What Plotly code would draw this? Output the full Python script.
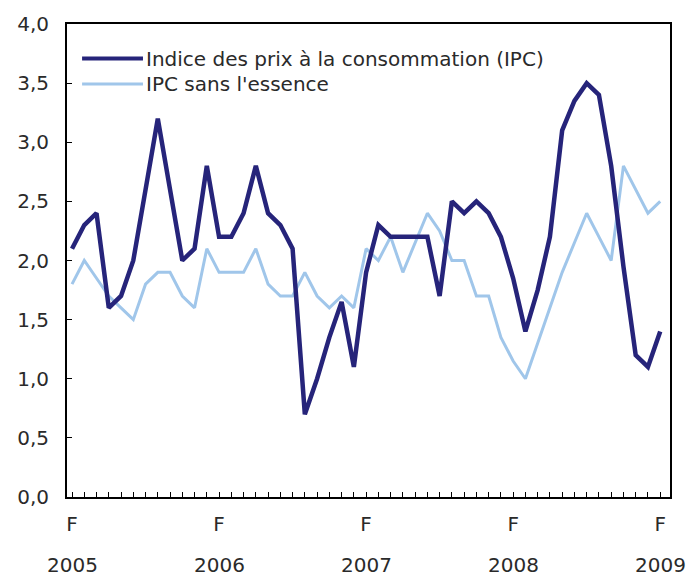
import plotly.graph_objects as go

# Monthly, Feb 2005 .. Feb 2009 (49 points)
months = list(range(49))
ipc = [2.1, 2.3, 2.4, 1.6, 1.7, 2.0, 2.6, 3.2, 2.6, 2.0, 2.1, 2.8,
       2.2, 2.2, 2.4, 2.8, 2.4, 2.3, 2.1, 0.7, 1.0, 1.35, 1.65, 1.1,
       1.9, 2.3, 2.2, 2.2, 2.2, 2.2, 1.7, 2.5, 2.4, 2.5, 2.4, 2.2,
       1.85, 1.4, 1.75, 2.2, 3.1, 3.35, 3.5, 3.4, 2.8, 1.95, 1.2, 1.1,
       1.4]
ipc_sans = [1.8, 2.0, 1.85, 1.7, 1.6, 1.5, 1.8, 1.9, 1.9, 1.7, 1.6, 2.1,
            1.9, 1.9, 1.9, 2.1, 1.8, 1.7, 1.7, 1.9, 1.7, 1.6, 1.7, 1.6,
            2.1, 2.0, 2.2, 1.9, 2.15, 2.4, 2.25, 2.0, 2.0, 1.7, 1.7, 1.35,
            1.15, 1.0, 1.3, 1.6, 1.9, 2.15, 2.4, 2.2, 2.0, 2.8, 2.6, 2.4,
            2.5]
feb_positions = [0, 12, 24, 36, 48]
feb_labels = ["F", "F", "F", "F", "F"]
years = ["2005", "2006", "2007", "2008", "2009"]
y_ticks = [0, 0.5, 1, 1.5, 2, 2.5, 3, 3.5, 4]
y_labels = ["0,0", "0,5", "1,0", "1,5", "2,0", "2,5", "3,0", "3,5", "4,0"]
series_names = ["Indice des prix à la consommation (IPC)", "IPC sans l'essence"]
series_colors = ["#26247a", "#a0c6ea"]

FONT = "DejaVu Sans, Liberation Sans, Arial, sans-serif"
FS = 20
TXT = "#2a2a2a"

fig = go.Figure()
fig.add_trace(go.Scatter(x=months, y=ipc_sans, mode="lines", name=series_names[1],
                         line=dict(color=series_colors[1], width=3), showlegend=False))
fig.add_trace(go.Scatter(x=months, y=ipc, mode="lines", name=series_names[0],
                         line=dict(color=series_colors[0], width=4.5), showlegend=False))

# custom legend
leg_y = [0.927, 0.873]
for i, (nm, col) in enumerate(zip(series_names, series_colors)):
    fig.add_shape(type="line", xref="paper", yref="paper",
                  x0=0.025, x1=0.126, y0=leg_y[i], y1=leg_y[i],
                  line=dict(color=col, width=4 if i == 0 else 3))
    fig.add_annotation(xref="paper", yref="paper", x=0.127, y=leg_y[i],
                       text=nm, showarrow=False, xanchor="left", yanchor="middle",
                       font=dict(family=FONT, size=FS, color=TXT))

# year labels under the F ticks
for pos, yr in zip(feb_positions, years):
    fig.add_annotation(x=pos, y=0, xref="x", yref="paper", yshift=-68,
                       text=yr, showarrow=False, xanchor="center", yanchor="middle",
                       font=dict(family=FONT, size=FS, color=TXT))

fig.update_layout(
    width=688, height=580,
    margin=dict(l=67, r=18, t=22, b=83),
    paper_bgcolor="white", plot_bgcolor="white",
    font=dict(family=FONT, size=FS, color=TXT),
)
fig.update_xaxes(
    range=[-0.41, 48.8], showgrid=False, zeroline=False,
    showline=True, mirror=True, linecolor="black", linewidth=2,
    tickmode="array", tickvals=feb_positions, ticktext=feb_labels,
    ticks="", ticklabelstandoff=8,
    minor=dict(tickmode="linear", tick0=0, dtick=1, ticks="inside",
               ticklen=5, tickcolor="black", tickwidth=1),
    tickfont=dict(family=FONT, size=FS, color=TXT),
)
fig.update_yaxes(
    range=[0, 4], showgrid=False, zeroline=False,
    showline=True, mirror=True, linecolor="black", linewidth=2,
    tickmode="array", tickvals=y_ticks, ticktext=y_labels,
    ticks="inside", ticklen=5, tickcolor="black", tickwidth=1,
    ticklabelstandoff=12,
    tickfont=dict(family=FONT, size=FS, color=TXT),
)

fig.write_html("out.html")
